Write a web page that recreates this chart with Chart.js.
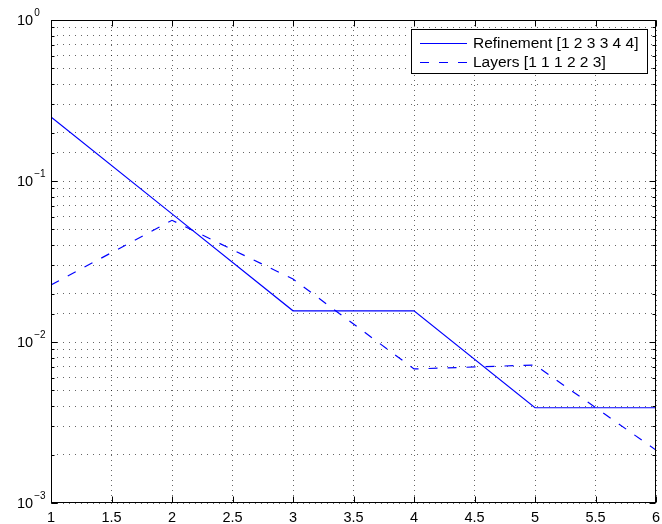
<!DOCTYPE html>
<html><head><meta charset="utf-8">
<script src="https://cdn.jsdelivr.net/npm/chart.js@4.4.1/dist/chart.umd.min.js"></script>
<style>html,body{margin:0;padding:0;background:#fff;}canvas{display:block;}</style>
</head><body>
<canvas id="c" width="662" height="524"></canvas>
<script>
const xValues = [1, 2, 3, 4, 5, 6];
const refinement = [0.25, 0.0625, 0.015625, 0.015625, 0.00390625, 0.00390625];
const layers = [0.0226, 0.057, 0.0246, 0.0068, 0.0072, 0.00213];
const xTickLabels = ['1', '1.5', '2', '2.5', '3', '3.5', '4', '4.5', '5', '5.5', '6'];
const yDecadeExponents = ['0', '-1', '-2', '-3'];
const seriesNames = ['Refinement [1 2 3 3 4 4]', 'Layers [1 1 1 2 2 3]'];

const FONT = '"Liberation Sans", Arial, Helvetica, sans-serif';

const decor = {
  id: 'decor',
  afterDraw(chart) {
    const ctx = chart.ctx;
    const a = chart.chartArea;
    const xs = chart.scales.x, ys = chart.scales.y;
    const L = Math.round(a.left) + 0.5, R = Math.round(a.right) - 0.5;
    const T = Math.round(a.top) + 0.5, B = Math.round(a.bottom) - 0.5;
    ctx.save();
    ctx.strokeStyle = '#000';
    ctx.lineWidth = 1;
    ctx.setLineDash([]);
    ctx.strokeRect(L, T, R - L, B - T);
    ctx.beginPath();
    xTickLabels.forEach(s => {
      const px = Math.round(xs.getPixelForValue(parseFloat(s))) + 0.5;
      ctx.moveTo(px, B); ctx.lineTo(px, B - 6);
      ctx.moveTo(px, T); ctx.lineTo(px, T + 6);
    });
    ys.ticks.forEach(t => {
      const v = t.value;
      const lg = Math.log10(v);
      const major = Math.abs(lg - Math.round(lg)) < 1e-9;
      const len = major ? 6 : 3;
      const py = Math.round(ys.getPixelForValue(v)) + 0.5;
      ctx.moveTo(L, py); ctx.lineTo(L + len, py);
      ctx.moveTo(R, py); ctx.lineTo(R - len, py);
    });
    ctx.stroke();

    ctx.fillStyle = '#000';
    ctx.font = '14.5px ' + FONT;
    ctx.textAlign = 'center';
    ctx.textBaseline = 'alphabetic';
    xTickLabels.forEach(s => {
      const px = xs.getPixelForValue(parseFloat(s));
      ctx.fillText(s, px, 522);
    });
    ctx.textAlign = 'left';
    yDecadeExponents.forEach(e => {
      const py = ys.getPixelForValue(Math.pow(10, parseFloat(e)));
      ctx.font = '14.5px ' + FONT;
      ctx.fillText('10', 17, py + 5);
      const w = ctx.measureText('10').width;
      ctx.font = '10px ' + FONT;
      ctx.fillText(e.replace('-', '\u2212'), 17 + w + 1, py - 4);
    });

    const bx = 411.5, by = 29.5, bw = 236, bh = 44;
    ctx.fillStyle = '#fff';
    ctx.fillRect(bx, by, bw, bh);
    ctx.strokeStyle = '#000';
    ctx.strokeRect(bx, by, bw, bh);
    const rows = [43, 62];
    chart.data.datasets.forEach((ds, i) => {
      ctx.strokeStyle = ds.borderColor;
      ctx.lineWidth = ds.borderWidth;
      ctx.setLineDash(ds.borderDash || []);
      ctx.beginPath();
      ctx.moveTo(420, rows[i] + 0.5);
      ctx.lineTo(467, rows[i] + 0.5);
      ctx.stroke();
      ctx.setLineDash([]);
      ctx.fillStyle = '#000';
      ctx.font = '15.5px ' + FONT;
      ctx.textBaseline = 'middle';
      ctx.fillText(ds.label, 473, rows[i] + 1);
    });
    ctx.restore();
  }
};

new Chart(document.getElementById('c'), {
  type: 'line',
  data: {
    datasets: [
      { label: seriesNames[0], data: xValues.map((x, i) => ({ x, y: refinement[i] })),
        borderColor: '#0000ff', borderWidth: 1.2, pointRadius: 0, tension: 0, fill: false },
      { label: seriesNames[1], data: xValues.map((x, i) => ({ x, y: layers[i] })),
        borderColor: '#0000ff', borderWidth: 1.2, borderDash: [9, 10], pointRadius: 0, tension: 0, fill: false }
    ]
  },
  options: {
    responsive: false,
    animation: false,
    devicePixelRatio: 1,
    layout: { padding: { left: 51, right: 6, top: 20, bottom: 21 } },
    plugins: { legend: { display: false }, tooltip: { enabled: false } },
    scales: {
      x: {
        type: 'linear', min: 1, max: 6,
        ticks: { display: false, stepSize: 0.5 },
        grid: { drawTicks: false, color: 'rgba(0,0,0,0.6)', lineWidth: 1 },
        border: { display: false, dash: [1, 4] }
      },
      y: {
        type: 'logarithmic', min: 0.001, max: 1,
        ticks: { display: false },
        grid: { drawTicks: false, color: 'rgba(0,0,0,0.6)', lineWidth: 1 },
        border: { display: false, dash: [1, 5] }
      }
    }
  },
  plugins: [decor]
});
</script>
</body></html>
